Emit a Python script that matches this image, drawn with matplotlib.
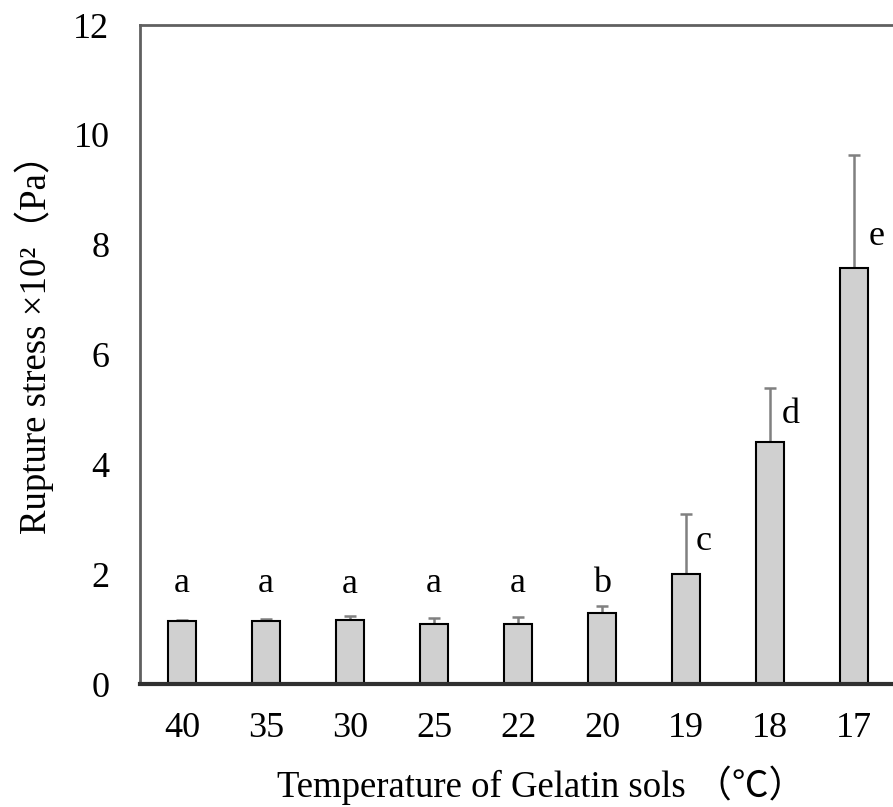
import numpy as np
import matplotlib.pyplot as plt

plt.rcParams['font.family'] = ['Liberation Serif', 'Noto Sans CJK SC']

# data (values x10^2 Pa)
temps = ['40', '35', '30', '25', '22', '20', '19', '18', '17']
stress = [1.15, 1.15, 1.17, 1.09, 1.09, 1.29, 2.00, 4.41, 7.58]
err_up = [0.01, 0.04, 0.07, 0.11, 0.13, 0.13, 1.10, 0.98, 2.06]
letters = ['a', 'a', 'a', 'a', 'a', 'b', 'c', 'd', 'e']
letter_x = [0, 1, 2, 3, 4, 5, 6.21, 7.25, 8.27]
letter_y = [1.68, 1.68, 1.66, 1.68, 1.68, 1.68, 2.44, 4.75, 8.0]

fig = plt.figure(figsize=(8.93, 8.07), dpi=100)
ax = fig.add_axes([0.1568, 0.1524, 0.8466, 0.8166])

x = np.arange(len(temps))
ax.bar(x, stress, width=0.33, color='#d0d0d0', edgecolor='black', linewidth=1.5, zorder=2)
ax.errorbar(x, stress, yerr=[np.zeros(len(x)), err_up], fmt='none',
            ecolor='#808080', elinewidth=1.8, capsize=4.5, capthick=1.8, zorder=1)

for xi, yi, s in zip(letter_x, letter_y, letters):
    ax.text(xi, yi, s, ha='center', va='baseline', fontsize=26)

ax.set_xlim(-0.5, 8.5)
ax.set_ylim(0, 12)
ax.set_yticks(range(0, 13, 2))
ax.set_xticks(x)
ax.set_xticklabels(temps)
ax.tick_params(axis='both', length=0, labelsize=26)
ax.tick_params(axis='y', pad=22)
ax.tick_params(axis='x', pad=20)

for side in ['left', 'top', 'right']:
    ax.spines[side].set_color('#606060')
    ax.spines[side].set_linewidth(2)
ax.spines['bottom'].set_color('#303030')
ax.spines['bottom'].set_linewidth(3)

xl = ax.set_xlabel('Temperature of Gelatin sols （℃）', fontsize=26.5)
xl.set_va('center')
ax.xaxis.set_label_coords(0.53, -0.153)
yl = ax.set_ylabel('Rupture stress ×10²（Pa）', fontsize=26.5)
yl.set_va('center')
ax.yaxis.set_label_coords(-0.14, 0.53)

fig.savefig('out.png', dpi=100)
